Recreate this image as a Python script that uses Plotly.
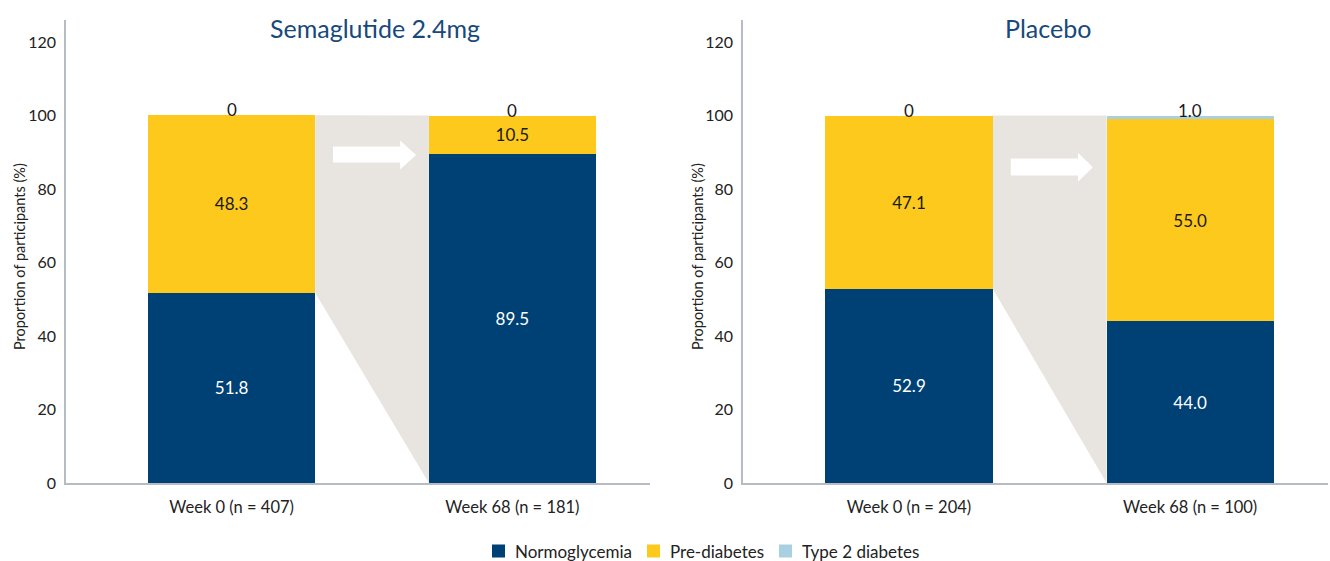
import plotly.graph_objects as go

# Glycaemic status at week 0 and week 68, by treatment arm (% of participants)
timepoints = ["Week 0", "Week 68"]
sema_n = [407, 181]
placebo_n = [204, 100]

sema_normo = [51.8, 89.5]
sema_pre = [48.3, 10.5]
sema_t2d = [0.0, 0.0]

placebo_normo = [52.9, 44.0]
placebo_pre = [47.1, 55.0]
placebo_t2d = [0.0, 1.0]

status_names = ["Normoglycemia", "Pre-diabetes", "Type 2 diabetes"]
status_colors = ["#004175", "#FDC91C", "#A9D0E0"]
label_colors = ["#FFFFFF", "#1A1A1A", "#1A1A1A"]

panel_titles = ["Semaglutide 2.4mg", "Placebo"]
y_ticks = [0, 20, 40, 60, 80, 100, 120]

FONT = "Lato, 'Noto Sans', sans-serif"
W, H = 1330, 561
BAR_W = 0.595
X_RANGE = [-0.59, 1.49]
Y_RANGE = [0, 126]


def fmt(v):
    return "0" if v == 0 else f"{v:.1f}"


fig = go.Figure()

panels = [
    ("x", "y", sema_normo, sema_pre, sema_t2d, sema_n),
    ("x2", "y2", placebo_normo, placebo_pre, placebo_t2d, placebo_n),
]

xpos = list(range(len(timepoints)))

for p, (xa, ya, normo, pre, t2d, n) in enumerate(panels):
    series = [normo, pre, t2d]
    for s, vals in enumerate(series):
        is_top = s == len(series) - 1
        fig.add_trace(go.Bar(
            x=xpos, y=vals, width=BAR_W,
            name=status_names[s],
            showlegend=False,
            marker=dict(color=status_colors[s], line=dict(width=0)),
            text=None if is_top else [fmt(v) for v in vals],
            textposition="none" if is_top else "inside",
            insidetextanchor="middle",
            textangle=0,
            constraintext="none",
            cliponaxis=False,
            textfont=dict(family=FONT, size=17, color=label_colors[s]),
            hoverinfo="skip",
            xaxis=xa, yaxis=ya,
        ))

    # value of the top segment, written just above each stack
    for i, v in enumerate(t2d):
        total = normo[i] + pre[i] + t2d[i]
        fig.add_annotation(
            text=fmt(v), x=xpos[i], y=total, xref=xa, yref=ya,
            xanchor="center", yanchor="bottom", yshift=-7, showarrow=False,
            font=dict(family=FONT, size=17, color="#1A1A1A"),
        )

    # grey band linking the non-normoglycaemic share at week 0 to the week 68 bar
    top0 = normo[0] + pre[0] + t2d[0]
    top1 = normo[1] + pre[1] + t2d[1]
    xr = xpos[0] + BAR_W / 2
    xl = xpos[1] - BAR_W / 2
    fig.add_shape(
        type="path",
        path=f"M {xr},{top0} L {xr},{normo[0]} L {xl},0 L {xl},{top1} Z",
        xref=xa, yref=ya, fillcolor="#E8E5E1", line=dict(width=0), layer="below",
    )

# white arrows inside the grey bands
arrow_geom = [
    # x start, head start, tip, body low, body high, head low, head high
    (0.361, 0.600, 0.657, 87.2, 91.6, 85.3, 93.2),
    (0.362, 0.601, 0.654, 83.7, 88.3, 82.0, 89.9),
]
for (xa, ya), (x0, xh, xt, b0, b1, h0, h1) in zip([("x", "y"), ("x2", "y2")], arrow_geom):
    ym = (h0 + h1) / 2
    fig.add_shape(
        type="path",
        path=(f"M {x0},{b0} L {xh},{b0} L {xh},{h0} L {xt},{ym} "
              f"L {xh},{h1} L {xh},{b1} L {x0},{b1} Z"),
        xref=xa, yref=ya, fillcolor="#FFFFFF", line=dict(width=0), layer="above",
    )

axis_line = "#B7BCC4"
x_tick_font = dict(family=FONT, size=16.5, color="#222222")
y_tick_font = dict(family=FONT, size=16, color="#222222")
y_bottom = 1 - 483 / H
y_top = 1 - 20 / H

common_x = dict(
    range=X_RANGE, showgrid=False, zeroline=False, showline=True,
    linecolor=axis_line, linewidth=1.5, ticks="", tickfont=x_tick_font,
    ticklabelstandoff=8, fixedrange=True, automargin=False,
)
common_y = dict(
    range=Y_RANGE, showgrid=False, zeroline=False, showline=True,
    linecolor=axis_line, linewidth=1.5, ticks="", tickfont=y_tick_font,
    tickvals=y_ticks, ticktext=[str(t) for t in y_ticks],
    ticklabelstandoff=5, fixedrange=True, automargin=False,
)

fig.update_layout(
    width=W, height=H,
    margin=dict(l=0, r=0, t=0, b=0),
    paper_bgcolor="white", plot_bgcolor="white",
    barmode="stack",
    font=dict(family=FONT, color="#222222"),
    xaxis=dict(domain=[66 / W, 650 / W], anchor="y",
               tickvals=xpos,
               ticktext=[f"{t} (n = {n})" for t, n in zip(timepoints, sema_n)],
               **common_x),
    yaxis=dict(domain=[y_bottom, y_top], anchor="x", **common_y),
    xaxis2=dict(domain=[743 / W, 1328 / W], anchor="y2",
                tickvals=xpos,
                ticktext=[f"{t} (n = {n})" for t, n in zip(timepoints, placebo_n)],
                **common_x),
    yaxis2=dict(domain=[y_bottom, y_top], anchor="x2", **common_y),
    showlegend=False,
)

# legend drawn as colour swatches with labels along the bottom
legend_swatch_x = [492, 647, 779]
legend_cy = 551
for name, color, sx in zip(status_names, status_colors, legend_swatch_x):
    fig.add_shape(
        type="rect", xref="paper", yref="paper",
        x0=sx / W, x1=(sx + 13) / W,
        y0=1 - (legend_cy + 6.5) / H, y1=1 - (legend_cy - 6.5) / H,
        fillcolor=color, line=dict(width=0),
    )
    fig.add_annotation(
        text=name, x=(sx + 21) / W, y=1 - legend_cy / H,
        xref="paper", yref="paper", xanchor="left", yanchor="middle",
        showarrow=False, font=dict(family=FONT, size=17, color="#222222"),
    )

# panel titles
for title, cx in zip(panel_titles, [375, 1048]):
    fig.add_annotation(
        text=title, x=cx / W, y=1 - 28 / H, xref="paper", yref="paper",
        xanchor="center", yanchor="middle", showarrow=False,
        font=dict(family=FONT, size=25, color="#17497A"),
    )

# y-axis titles
for cx in [19, 697]:
    fig.add_annotation(
        text="Proportion of participants (%)", x=cx / W, y=1 - 257 / H,
        xref="paper", yref="paper", xanchor="center", yanchor="middle",
        textangle=-90, showarrow=False,
        font=dict(family=FONT, size=14.5, color="#222222"),
    )

fig.write_html("out.html")
